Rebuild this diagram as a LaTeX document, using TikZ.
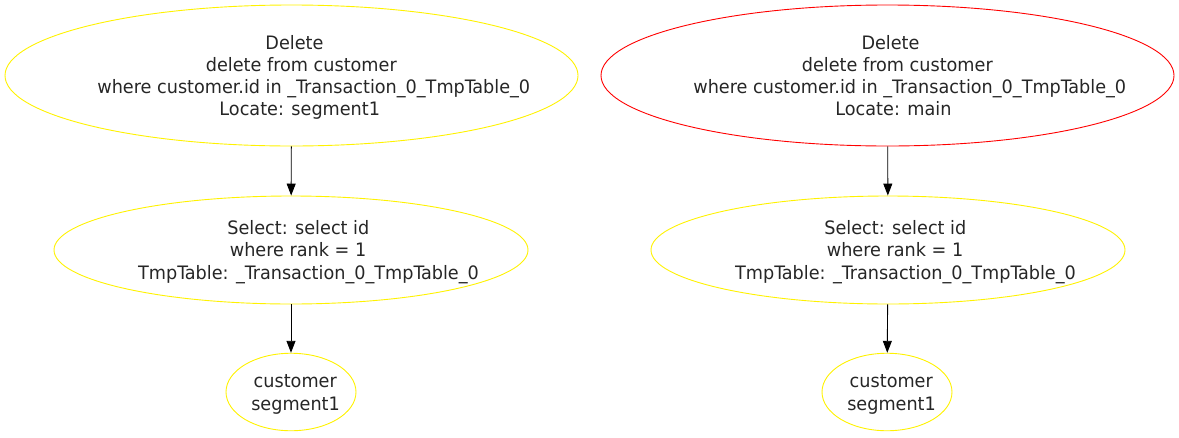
\documentclass[tikz,border=0pt]{standalone}
\usepackage{fontspec}
\setmainfont{DejaVu Sans Condensed}[FakeStretch=1.06]
\usetikzlibrary{shapes.geometric,arrows.meta}
\newcommand\gvline[1]{\setbox0\hbox{#1}\kern0.103\wd0\box0}
\newcommand\gvtext[1]{\makebox[0pt]{\raisebox{-2.5pt}[\height][\depth]{\begin{tabular}{@{}c@{}}#1\end{tabular}}}}
\begin{document}
\begin{tikzpicture}[x=1pt,y=-1pt,
  every node/.style={font=\fontsize{18.5}{22.3}\selectfont, inner sep=0pt, text=black!85},
  oval/.style={ellipse, draw=yellow, line width=0.9pt},
  ovalred/.style={ellipse, draw=red, line width=0.9pt},
  link/.style={-{Triangle[length=12pt,width=9pt]}, line width=0.9pt}]
\useasboundingbox (0,0) rectangle (1179,437);
% left column
\node[oval, minimum width=573, minimum height=141] (d1) at (291.5,75.5) {\gvtext{\gvline{Delete}\\\gvline{delete from customer}\\\gvline{where customer.id in \_Transaction\_0\_TmpTable\_0}\\\gvline{Locate: segment1}}};
\node[oval, minimum width=474, minimum height=108] (s1) at (291,250) {\gvtext{\gvline{Select: select id}\\\gvline{where rank = 1}\\\gvline{TmpTable: \_Transaction\_0\_TmpTable\_0}}};
\node[oval, minimum width=130, minimum height=77.5] (c1) at (291,392) {\gvtext{\gvline{customer}\\\gvline{segment1}}};
% right column
\node[ovalred, minimum width=573, minimum height=141] (d2) at (887.5,75.5) {\gvtext{\gvline{Delete}\\\gvline{delete from customer}\\\gvline{where customer.id in \_Transaction\_0\_TmpTable\_0}\\\gvline{Locate: main}}};
\node[oval, minimum width=474, minimum height=108] (s2) at (888,250) {\gvtext{\gvline{Select: select id}\\\gvline{where rank = 1}\\\gvline{TmpTable: \_Transaction\_0\_TmpTable\_0}}};
\node[oval, minimum width=130, minimum height=77.5] (c2) at (887,392) {\gvtext{\gvline{customer}\\\gvline{segment1}}};
\draw[link] (d1) -- (s1);
\draw[link] (s1) -- (c1);
\draw[link] (d2) -- (s2);
\draw[link] (s2) -- (c2);
\end{tikzpicture}
\end{document}
